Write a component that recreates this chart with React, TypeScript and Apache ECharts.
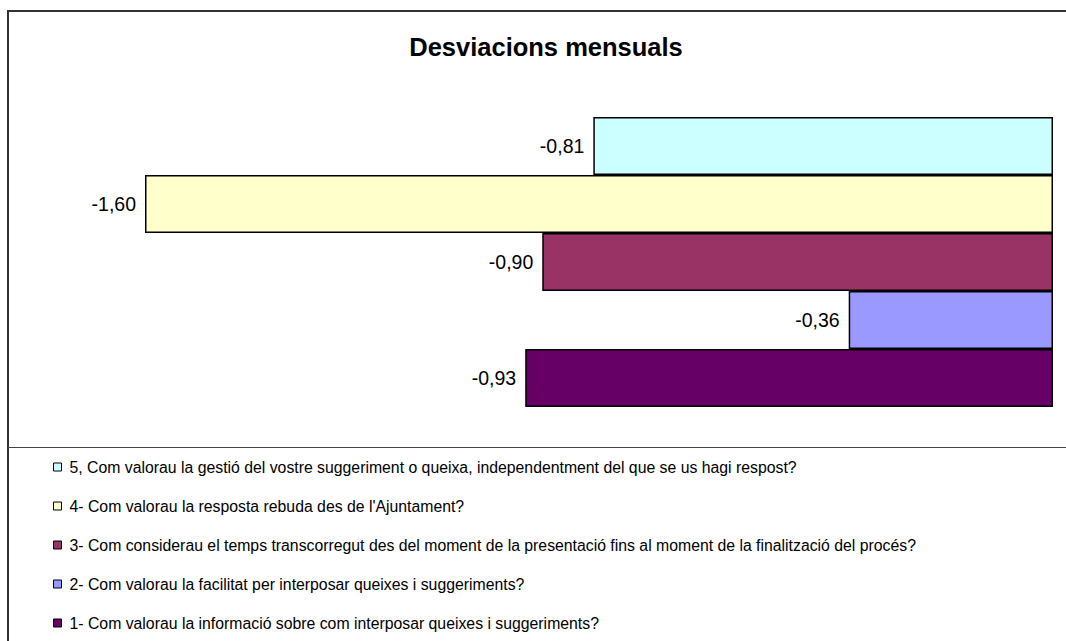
import React, { useEffect, useRef } from "react";
import * as echarts from "echarts";

const seriesNames = [
  "5, Com valorau la gestió del vostre suggeriment o queixa, independentment del que se us hagi respost?",
  "4- Com valorau la resposta rebuda des de l'Ajuntament?",
  "3- Com considerau el temps transcorregut des del moment de la presentació fins al moment de la finalització del procés?",
  "2- Com valorau la facilitat per interposar queixes i suggeriments?",
  "1- Com valorau la informació sobre com interposar queixes i suggeriments?",
];
const seriesValues = [-0.81, -1.6, -0.9, -0.36, -0.93];
const seriesColors = ["#CCFFFF", "#FFFFCC", "#993366", "#9999FF", "#660066"];
const categories = ["Desviacions"];

export default function App() {
  const ref = useRef<HTMLDivElement>(null);
  useEffect(() => {
    if (!ref.current) return;
    const chart = echarts.init(ref.current, null, { renderer: "svg" });
    const fmt = (v: number) => v.toFixed(2).replace(".", ",");
    chart.setOption({
      animation: false,
      backgroundColor: "#ffffff",
      title: {
        text: "Desviacions mensuals",
        left: 541,
        top: 29,
        textAlign: "center",
        textStyle: {
          fontFamily: "Liberation Sans, Arial, sans-serif",
          fontSize: 25.5,
          fontWeight: "bold",
          color: "#000000",
        },
      },
      graphic: [
        {
          type: "rect",
          shape: { x: 8, y: 11, width: 1070, height: 640 },
          style: { fill: "none", stroke: "#333333", lineWidth: 2 },
          silent: true,
        },
        {
          type: "line",
          shape: { x1: 8, y1: 447.5, x2: 1066, y2: 447.5 },
          style: { stroke: "#444444", lineWidth: 1 },
          silent: true,
        },
      ],
      legend: {
        orient: "vertical",
        left: 48,
        top: 454,
        itemWidth: 8,
        itemHeight: 8,
        itemGap: 23,
        icon: "rect",
        data: seriesNames,
        textStyle: {
          fontFamily: "Liberation Sans, Arial, sans-serif",
          fontSize: 15.8,
          color: "#000000",
          lineHeight: 16,
          padding: [0, 0, 0, 3],
        },
        itemStyle: { borderColor: "#000000", borderWidth: 1 },
      },
      grid: { left: 145, right: 13, top: 117, height: 290, containLabel: false },
      xAxis: {
        type: "value",
        min: -1.6,
        max: 0,
        show: false,
      },
      yAxis: {
        type: "category",
        data: categories,
        show: false,
      },
      series: seriesNames.map((name, i) => ({
        name,
        type: "bar",
        data: [seriesValues[i]],
        barGap: "0%",
        barCategoryGap: "0%",
        itemStyle: {
          color: seriesColors[i],
          borderColor: "#000000",
          borderWidth: 1.5,
        },
        label: {
          show: true,
          position: "left",
          distance: 9,
          formatter: (p: any) => fmt(p.value),
          fontFamily: "Liberation Sans, Arial, sans-serif",
          fontSize: 19.5,
          color: "#000000",
        },
      })),
    });
    return () => chart.dispose();
  }, []);
  return (
    <div
      ref={ref}
      style={{ position: "absolute", left: 0, top: 0, width: 1066, height: 641 }}
    />
  );
}
